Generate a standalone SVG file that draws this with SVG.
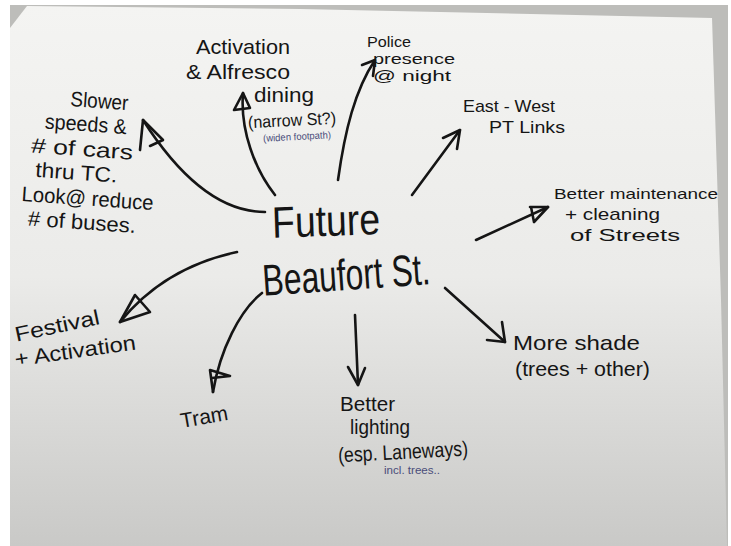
<svg xmlns="http://www.w3.org/2000/svg" width="731" height="546" viewBox="0 0 731 546">
<defs>
<linearGradient id="paper" x1="0" y1="0" x2="0" y2="1">
<stop offset="0" stop-color="#f4f4f2"/>
<stop offset="0.5" stop-color="#ebebe9"/>
<stop offset="1" stop-color="#c9c9c7"/>
</linearGradient>
<style>
.t{font-family:"Liberation Sans",Arial,sans-serif;fill:#151515;font-size:21px}
.m{font-family:"Liberation Sans",Arial,sans-serif;fill:#151515;font-size:17px}
.n{font-family:"Liberation Sans",Arial,sans-serif;fill:#151515;font-size:15px}
.c{font-family:"Liberation Sans",Arial,sans-serif;fill:#151515;font-size:44px}
.s{font-family:"Liberation Sans",Arial,sans-serif;fill:#4a4d7a;font-size:10px}
.a{fill:none;stroke:#151515;stroke-width:2.6;stroke-linecap:round;stroke-linejoin:round}
</style>
</defs>
<rect width="731" height="546" fill="#ffffff"/>
<polygon points="10,5 728,5 728,546 10,546" fill="#bdbdba"/>
<polygon points="10,28 27,6 300,9 712,18 721,300 727,546 10,546" fill="url(#paper)"/>

<g id="connectors">
<path class="a" d="M265,212 C215,212 175,170 143,120"/>
<path class="a" d="M143,120 L140,150 M143,120 L163,140 L150,146"/>
<path class="a" d="M275,195 C255,170 240,130 243,93"/>
<path class="a" d="M243,93 L234,110 L250,108 Z"/>
<path class="a" d="M338,180 C345,130 355,90 375,60"/>
<path class="a" d="M375,60 L362,65 M375,60 L373,76"/>
<path class="a" d="M412,195 L460,130"/>
<path class="a" d="M460,130 L443,138 M460,130 L457,149"/>
<path class="a" d="M476,240 L548,207"/>
<path class="a" d="M548,207 L530,207 M548,207 L534,222 L531,207"/>
<path class="a" d="M445,288 L505,342"/>
<path class="a" d="M505,342 L487,340 M505,342 L502,322"/>
<path class="a" d="M355,315 L358,385"/>
<path class="a" d="M358,385 L348,367 M358,385 L365,368"/>
<path class="a" d="M237,252 C190,262 150,285 120,322"/>
<path class="a" d="M120,322 L135,295 L150,312 Z"/>
<path class="a" d="M262,293 C240,310 220,350 213,392"/>
<path class="a" d="M213,392 L210,370 L230,376 L212,378"/>
</g>

<g id="center">
<text class="c" x="272" y="236" textLength="108" lengthAdjust="spacingAndGlyphs" transform="rotate(-2 326 220)">Future</text>
<text class="c" x="262" y="290" textLength="168" lengthAdjust="spacingAndGlyphs" transform="rotate(-4 346 270)">Beaufort St.</text>
</g>

<g id="slower" transform="rotate(4 95 165)">
<text class="t" x="66" y="108" textLength="58" lengthAdjust="spacingAndGlyphs">Slower</text>
<text class="t" x="42" y="132" textLength="82" lengthAdjust="spacingAndGlyphs">speeds &amp;</text>
<text class="t" x="30" y="157" textLength="102" lengthAdjust="spacingAndGlyphs"># of cars</text>
<text class="t" x="36" y="181" textLength="82" lengthAdjust="spacingAndGlyphs">thru TC.</text>
<text class="t" x="24" y="206" textLength="132" lengthAdjust="spacingAndGlyphs">Look@ reduce</text>
<text class="t" x="32" y="230" textLength="108" lengthAdjust="spacingAndGlyphs"># of buses.</text>
</g>

<g id="activation">
<text class="t" x="196" y="54" textLength="94" lengthAdjust="spacingAndGlyphs">Activation</text>
<text class="t" x="186" y="79" textLength="104" lengthAdjust="spacingAndGlyphs">&amp; Alfresco</text>
<text class="t" x="254" y="102" textLength="60" lengthAdjust="spacingAndGlyphs">dining</text>
<text class="m" x="248" y="126" textLength="88" lengthAdjust="spacingAndGlyphs" transform="rotate(-3 292 120)">(narrow St?)</text>
<text class="s" x="263" y="140" textLength="68" lengthAdjust="spacingAndGlyphs" transform="rotate(-3 297 136)">(widen footpath)</text>
</g>

<g id="police">
<text class="n" x="367" y="47" textLength="44" lengthAdjust="spacingAndGlyphs">Police</text>
<text class="n" x="373" y="64" textLength="82" lengthAdjust="spacingAndGlyphs">presence</text>
<text class="n" x="373" y="81" textLength="78" lengthAdjust="spacingAndGlyphs">@ night</text>
</g>

<g id="eastwest">
<text class="m" x="463" y="112" textLength="92" lengthAdjust="spacingAndGlyphs">East - West</text>
<text class="m" x="489" y="133" textLength="76" lengthAdjust="spacingAndGlyphs">PT Links</text>
</g>

<g id="maintenance">
<text class="n" x="554" y="199" textLength="164" lengthAdjust="spacingAndGlyphs">Better maintenance</text>
<text class="m" x="565" y="220" textLength="95" lengthAdjust="spacingAndGlyphs">+ cleaning</text>
<text class="m" x="570" y="241" textLength="110" lengthAdjust="spacingAndGlyphs">of Streets</text>
</g>

<g id="shade">
<text class="t" x="513" y="350" textLength="127" lengthAdjust="spacingAndGlyphs">More shade</text>
<text class="t" x="515" y="376" textLength="135" lengthAdjust="spacingAndGlyphs">(trees + other)</text>
</g>

<g id="lighting">
<text class="t" x="340" y="411" textLength="55" lengthAdjust="spacingAndGlyphs">Better</text>
<text class="t" x="350" y="434" textLength="60" lengthAdjust="spacingAndGlyphs">lighting</text>
<text class="t" x="338" y="459" textLength="130" lengthAdjust="spacingAndGlyphs" transform="rotate(-3 403 452)">(esp. Laneways)</text>
<text class="s" x="384" y="474" textLength="56" lengthAdjust="spacingAndGlyphs">incl. trees..</text>
</g>

<g id="tram">
<text class="t" x="180" y="424" textLength="48" lengthAdjust="spacingAndGlyphs" transform="rotate(-10 204 416)">Tram</text>
</g>

<g id="festival">
<text class="t" x="14" y="333" textLength="86" lengthAdjust="spacingAndGlyphs" transform="rotate(-12 57 325)">Festival</text>
<text class="t" x="14" y="358" textLength="122" lengthAdjust="spacingAndGlyphs" transform="rotate(-8 75 350)">+ Activation</text>
</g>
</svg>
